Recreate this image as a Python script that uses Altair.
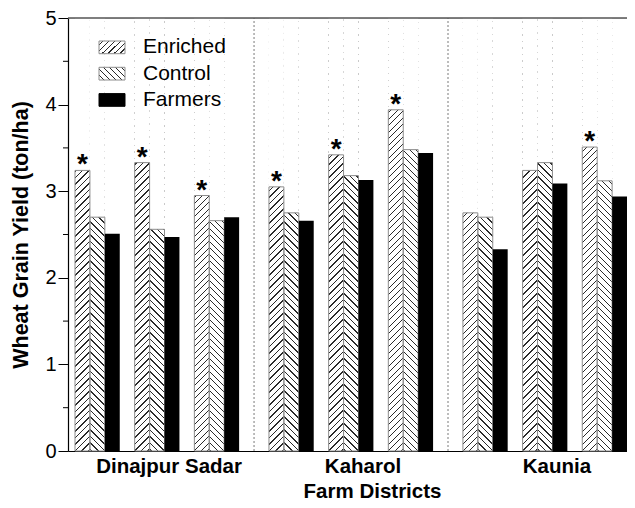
import altair as alt
import pandas as pd

# ---- data ----
districts = ["Dinajpur Sadar", "Kaharol", "Kaunia"]
treatments = ["Enriched", "Control", "Farmers"]
enriched = [3.24, 3.33, 2.95, 3.05, 3.42, 3.94, 2.75, 3.24, 3.51]
control = [2.70, 2.56, 2.66, 2.75, 3.18, 3.48, 2.70, 3.33, 3.12]
farmers = [2.51, 2.47, 2.70, 2.66, 3.13, 3.44, 2.33, 3.09, 2.94]
significant = [1, 1, 1, 1, 1, 1, 0, 0, 1]
y_ticks = [0, 1, 2, 3, 4, 5]
y_minor = [0.5, 1.5, 2.5, 3.5, 4.5]

# ---- layout ----
W, H = 559, 433
SLOT_PX = 14.92
X0 = -7.0 / SLOT_PX
X1 = X0 + W / SLOT_PX
FONT = "Liberation Sans"

series = {"Enriched": enriched, "Control": control, "Farmers": farmers}
rows = []
for i in range(len(enriched)):
    d, g = divmod(i, 3)
    base = d * 13 + g * 4
    for t, name in enumerate(treatments):
        rows.append(dict(district=districts[d], treatment=name, slot=base + t,
                         slot_end=base + t + 1, xc=base + t + 0.5,
                         value=series[name][i], bottom=0.0, top=5.0,
                         sig=significant[i] if name == "Enriched" else 0))
df = pd.DataFrame(rows)
dfE = df[df.treatment == "Enriched"]
dfC = df[df.treatment == "Control"]
dfF = df[df.treatment == "Farmers"]
dfEC = df[df.treatment != "Farmers"]
dfSig = df[df.sig == 1]
df_d = pd.DataFrame({"district": districts,
                     "center": [d * 13 + 5.5 for d in range(len(districts))]})
df_sep = pd.DataFrame({"slot": [d * 13 - 1 for d in range(1, len(districts))],
                       "bottom": 0.0, "top": 5.0})


def hatch(w, h, period, lw, direction, line="#2a2a2a", bg="white"):
    L = w + h
    k = (w + h) / (w * w + h * h)
    stops = [{"color": bg, "offset": 0.0}]
    a = period / 2.0
    while a < L:
        b = min(a + lw, L)
        stops += [{"color": bg, "offset": a / L}, {"color": line, "offset": a / L},
                  {"color": line, "offset": b / L}, {"color": bg, "offset": b / L}]
        a += period
    stops.append({"color": bg, "offset": 1.0})
    if direction == "/":
        x1, y1, x2, y2 = 0.0, 0.0, k * w, k * h
    else:
        x1, y1, x2, y2 = 1.0, 0.0, 1.0 - k * w, k * h
    return {"gradient": "linear", "x1": x1, "y1": y1, "x2": x2, "y2": y2, "stops": stops}


gradE = hatch(SLOT_PX, H, 6.5, 1.3, "/")
gradC = hatch(SLOT_PX, H, 6.5, 1.3, "\\")
SW_W, SW_H = 26, 12.7
gradE_sw = hatch(SW_W, SW_H, 6.0, 1.3, "/")
gradC_sw = hatch(SW_W, SW_H, 6.0, 1.3, "\\")

xscale = alt.Scale(domain=[X0, X1], nice=False, zero=False)
yscale = alt.Scale(domain=[0, 5], nice=False, zero=True)
xaxis = alt.Axis(title="Farm Districts", labels=False, ticks=False, grid=False,
                 domainColor="black", domainWidth=1.2,
                 titleFont=FONT, titleFontSize=20.5, titleFontWeight="bold",
                 titleColor="black", titleX=304, titleY=40, titleBaseline="middle",
                 titleAlign="center")
yaxis = alt.Axis(title="Wheat Grain Yield (ton/ha)", values=y_ticks, format="d",
                 grid=False, tickSize=10, tickColor="black", domainColor="black",
                 domainWidth=1.2, labelFont=FONT, labelFontSize=20, labelColor="black",
                 labelPadding=2, titleFont=FONT, titleFontSize=21.5,
                 titleFontWeight="bold", titleColor="black", titleX=-47,
                 titleY=H / 2, titleAngle=270, titleAlign="center",
                 titleBaseline="middle")


def X(f):
    return alt.X(f"{f}:Q", scale=xscale, axis=xaxis)


def Y(f):
    return alt.Y(f"{f}:Q", scale=yscale, axis=yaxis)


layers = []
layers.append(alt.Chart(dfE).mark_rect(fill=gradE, strokeWidth=0).encode(
    x=X("slot"), x2="slot_end", y=Y("bottom"), y2="top"))
layers.append(alt.Chart(dfC).mark_rect(fill=gradC, strokeWidth=0).encode(
    x=X("slot"), x2="slot_end", y=Y("bottom"), y2="top"))
layers.append(alt.Chart(dfEC).mark_rect(fill="white", strokeWidth=0).encode(
    x=X("slot"), x2="slot_end", y=Y("value"), y2="top"))
layers.append(alt.Chart(dfEC).mark_rect(fill="transparent", stroke="#8c8c8c",
                                        strokeWidth=1).encode(
    x=X("slot"), x2="slot_end", y=Y("bottom"), y2="value"))
layers.append(alt.Chart(dfF).mark_rect(fill="black", strokeWidth=0).encode(
    x=X("slot"), x2="slot_end", y=Y("bottom"), y2="value"))
layers.append(alt.Chart(df_sep).mark_rule(color="#7a7a7a", strokeWidth=1,
                                          strokeDash=[2, 2]).encode(
    x=X("slot"), y=Y("bottom"), y2="top"))
layers.append(alt.Chart(dfSig).mark_text(text="*", font=FONT, fontSize=28,
                                         fontWeight="bold", color="black",
                                         baseline="alphabetic", dy=3).encode(
    x=X("xc"), y=Y("value")))
layers.append(alt.Chart(pd.DataFrame({"v": [5.0]})).mark_rule(
    color="#555555", strokeWidth=1.5).encode(
    y=Y("v"), x=alt.value(0), x2=alt.value(W)))
layers.append(alt.Chart(pd.DataFrame({"v": y_minor})).mark_rule(
    color="black", strokeWidth=1).encode(
    y=Y("v"), x=alt.value(-5), x2=alt.value(0)))

# legend
fills = [gradE_sw, gradC_sw, "black"]
for i, name in enumerate(treatments):
    top = 23 + i * 26.3
    layers.append(alt.Chart(pd.DataFrame({"t": [name]})).mark_rect(
        fill=fills[i], stroke="#8c8c8c" if i < 2 else "black", strokeWidth=1).encode(
        x=alt.value(31), x2=alt.value(31 + SW_W), y=alt.value(top),
        y2=alt.value(top + SW_H)))
    layers.append(alt.Chart(pd.DataFrame({"t": [name]})).mark_text(
        font=FONT, fontSize=21, color="black", align="left",
        baseline="middle").encode(
        x=alt.value(75), y=alt.value(top + SW_H / 2), text="t:N"))

layers.append(alt.Chart(df_d).mark_text(font=FONT, fontSize=20.5, fontWeight="bold",
                                        color="black", dx=12,
                                        baseline="middle").encode(
    x=X("center"), y=alt.value(H + 16), text="district:N"))

chart = alt.layer(*layers).properties(
    width=W, height=H,
    autosize=alt.AutoSizeParams(type="none"),
    padding={"left": 60, "top": 10, "right": 0, "bottom": 49},
).configure_view(stroke=None).configure(background="white")

chart.save("out.html", embed_options={"renderer": "svg", "actions": False})
